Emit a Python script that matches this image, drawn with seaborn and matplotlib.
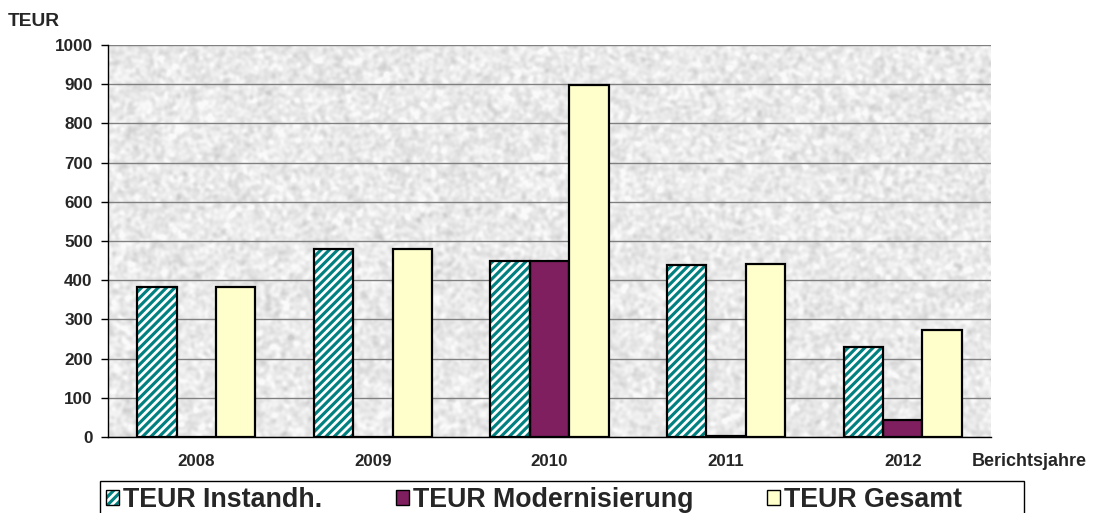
import numpy as np
import pandas as pd
import matplotlib
matplotlib.use("Agg")
import matplotlib.pyplot as plt
from matplotlib.patches import Patch, Rectangle
from matplotlib.legend_handler import HandlerTuple
import seaborn as sns

years = ["2008", "2009", "2010", "2011", "2012"]
instandh = [383, 479, 449, 439, 230]
modernisierung = [0, 0, 449, 3, 43]
gesamt = [383, 479, 898, 442, 273]
series_names = ["TEUR Instandh.", "TEUR Modernisierung", "TEUR Gesamt"]
series_colors = ["#008080", "#7f1f5f", "#ffffcc"]

df = pd.DataFrame({
    "Jahr": years * 3,
    "Serie": [series_names[0]] * 5 + [series_names[1]] * 5 + [series_names[2]] * 5,
    "TEUR": instandh + modernisierung + gesamt,
})

sns.set_style("white")
plt.rcParams["font.family"] = ["Liberation Sans", "DejaVu Sans"]
plt.rcParams["hatch.linewidth"] = 2.0

W, H = 1093, 513
fig = plt.figure(figsize=(W / 100, H / 100), dpi=100)
ax = fig.add_axes([108 / W, 1 - 437 / H, 883 / W, 392 / H])

# granite-like background for the plot area
rng = np.random.default_rng(7)
h, w = 392, 883
noise = rng.normal(size=(h, w))
ky = np.fft.fftfreq(h)[:, None]
kx = np.fft.fftfreq(w)[None, :]
blur = np.exp(-((kx ** 2 + ky ** 2) * (2 * np.pi * 1.8) ** 2) / 2)
tex = np.real(np.fft.ifft2(np.fft.fft2(noise) * blur))
tex = (tex - tex.mean()) / tex.std()
tex = np.clip(0.915 + 0.03 * tex, 0.80, 0.98)
ax.imshow(tex, cmap="gray", vmin=0, vmax=1, extent=(-0.5, 4.5, 0, 1000),
          aspect="auto", zorder=0, interpolation="bilinear")

sns.barplot(data=df, x="Jahr", y="TEUR", hue="Serie", order=years,
            hue_order=series_names, palette=series_colors, width=0.67,
            saturation=1, edgecolor="black", linewidth=1.6, ax=ax, zorder=2)
if ax.get_legend() is not None:
    ax.get_legend().remove()

# white diagonal stripes on the teal bars, with a black outline on top
for p in list(ax.patches)[:5]:
    x0, y0 = p.get_xy()
    outline = Rectangle((x0, y0), p.get_width(), p.get_height(), facecolor="none",
                        edgecolor="black", linewidth=1.6, zorder=3)
    p.set_edgecolor("white")
    p.set_linewidth(0)
    p.set_hatch("////")
    ax.add_patch(outline)

ax.set_xlim(-0.5, 4.5)
ax.set_ylim(0, 1000)
ax.set_yticks(np.arange(0, 1001, 100))
ax.set_yticklabels([str(v) for v in range(0, 1001, 100)], fontsize=12.3, fontweight="bold")
ax.set_xticks(range(5))
ax.set_xticklabels(years, fontsize=12.2, fontweight="bold")
ax.set_xticks(np.arange(-0.5, 4.6, 1), minor=True)
ax.tick_params(axis="x", which="major", length=0, pad=12)
ax.tick_params(axis="x", which="minor", length=5, width=1, color="black", direction="out")
ax.tick_params(axis="y", length=5, width=1, color="black", direction="out", left=True, pad=6)
ax.grid(axis="y", color="#808080", linewidth=1)
for gl in ax.get_ygridlines():
    gl.set_zorder(1)
ax.set_xlabel("")
ax.set_ylabel("")
for s in ["top", "right"]:
    ax.spines[s].set_visible(False)
for s in ["left", "bottom"]:
    ax.spines[s].set_color("black")
    ax.spines[s].set_linewidth(1)
    ax.spines[s].set_zorder(4)

fig.text(8 / W, 1 - 21 / H, "TEUR", fontsize=13.8, fontweight="bold", va="center", ha="left")
fig.text(972 / W, 1 - 462 / H, "Berichtsjahre", fontsize=13, fontweight="bold",
         va="center", ha="left")

# legend: frame drawn as a rectangle running off the bottom edge
fig.add_artist(Rectangle((100 / W, 1 - 530 / H), 924 / W, 49 / H,
                         transform=fig.transFigure, facecolor="white",
                         edgecolor="black", linewidth=1, zorder=5))
handles = [
    (Patch(facecolor=series_colors[0], edgecolor="white", hatch="////", linewidth=0),
     Patch(facecolor="none", edgecolor="black", linewidth=1)),
    Patch(facecolor=series_colors[1], edgecolor="black", linewidth=1),
    Patch(facecolor=series_colors[2], edgecolor="black", linewidth=1),
]
leg = fig.legend(handles, series_names, loc="upper left",
                 bbox_to_anchor=(101 / W, 1 - 482 / H), ncol=3, frameon=False,
                 prop={"size": 19.3, "weight": "bold"}, handlelength=0.48,
                 handleheight=0.48, handletextpad=0.15, columnspacing=2.75,
                 borderpad=0.2, borderaxespad=0,
                 handler_map={tuple: HandlerTuple(ndivide=1)})
leg.set_zorder(6)

fig.savefig("out.png", dpi=100)
